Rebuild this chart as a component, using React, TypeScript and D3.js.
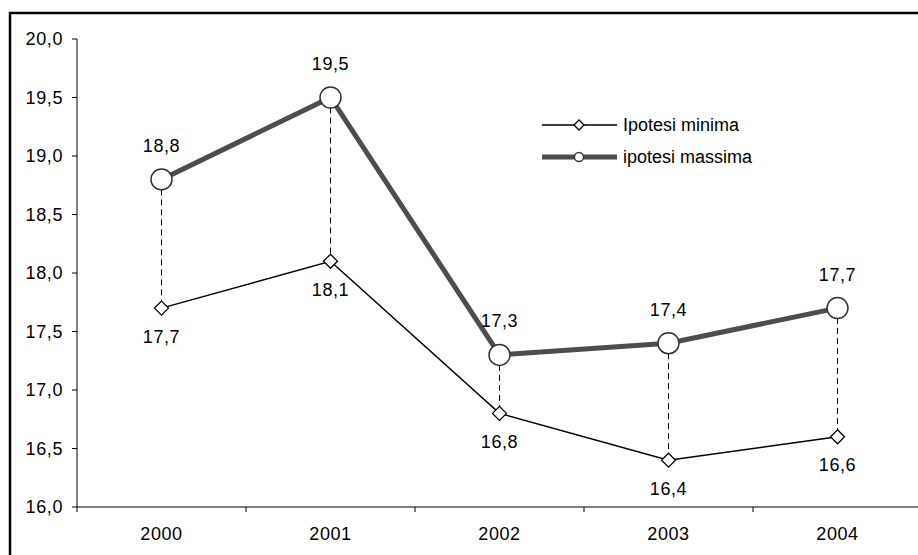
import React from "react";
import * as d3 from "d3";

const years: string[] = ["2000", "2001", "2002", "2003", "2004"];
const minValues: number[] = [17.7, 18.1, 16.8, 16.4, 16.6];
const maxValues: number[] = [18.8, 19.5, 17.3, 17.4, 17.7];
const yTicks: number[] = [16.0, 16.5, 17.0, 17.5, 18.0, 18.5, 19.0, 19.5, 20.0];
const seriesNames: string[] = ["Ipotesi minima", "ipotesi massima"];

const W = 918;
const H = 555;
const FONT = "'Liberation Sans', Arial, sans-serif";
const FS = 18;
const LS = 0.6;
const fmt = (v: number) => v.toFixed(1).replace(".", ",");

export default function App() {
  const x = d3.scaleBand<string>().domain(years).range([77, 922]).padding(0);
  const y = d3.scaleLinear().domain([16, 20]).range([507, 39]);
  const cx = (d: string) => (x(d) as number) + x.bandwidth() / 2;

  const line = d3
    .line<number>()
    .x((_, i) => cx(years[i]))
    .y((v) => y(v));

  const diamond = (px: number, py: number, s: number) =>
    `M${px},${py - s}L${px + s},${py}L${px},${py + s}L${px - s},${py}Z`;

  const legY = [125, 157];

  return (
    <div style={{ position: "absolute", left: 0, top: 0, width: W, height: H, background: "#fff" }}>
      <svg width={W} height={H} style={{ display: "block", fontFamily: FONT }}>
        <rect x={10} y={13} width={930} height={580} fill="#fff" stroke="#000" strokeWidth={2.5} />

        {/* y axis */}
        <line x1={77} x2={77} y1={y(20)} y2={y(16)} stroke="#000" strokeWidth={1} />
        {yTicks.map((t) => (
          <g key={t}>
            <line x1={72} x2={77} y1={y(t)} y2={y(t)} stroke="#000" strokeWidth={1} />
            <text x={63} y={y(t)} dy="0.36em" textAnchor="end" fontSize={FS} letterSpacing={LS} fill="#000">
              {fmt(t)}
            </text>
          </g>
        ))}

        {/* x axis */}
        <line x1={77} x2={922} y1={y(16)} y2={y(16)} stroke="#000" strokeWidth={1} />
        {years.map((yr) => (
          <g key={yr}>
            <line
              x1={x(yr) as number}
              x2={x(yr) as number}
              y1={y(16)}
              y2={y(16) + 5}
              stroke="#000"
              strokeWidth={1}
            />
            <text x={cx(yr)} y={534} dy="0.36em" textAnchor="middle" fontSize={FS} letterSpacing={LS} fill="#000">
              {yr}
            </text>
          </g>
        ))}

        {/* drop lines */}
        {years.map((yr, i) => (
          <line
            key={"d" + yr}
            x1={cx(yr)}
            x2={cx(yr)}
            y1={y(maxValues[i])}
            y2={y(minValues[i])}
            stroke="#000"
            strokeWidth={1}
            strokeDasharray="6,4"
          />
        ))}

        {/* min series */}
        <path d={line(minValues) || ""} fill="none" stroke="#000" strokeWidth={1.5} />
        {minValues.map((v, i) => (
          <path
            key={"m" + i}
            d={diamond(cx(years[i]), y(v), 7)}
            fill="#fff"
            stroke="#000"
            strokeWidth={1.3}
          />
        ))}

        {/* max series */}
        <path d={line(maxValues) || ""} fill="none" stroke="#4d4d4d" strokeWidth={5} />
        {maxValues.map((v, i) => (
          <circle
            key={"c" + i}
            cx={cx(years[i])}
            cy={y(v)}
            r={10.5}
            fill="#fff"
            stroke="#333"
            strokeWidth={1.5}
          />
        ))}

        {/* labels */}
        {maxValues.map((v, i) => (
          <text
            key={"lx" + i}
            x={cx(years[i])}
            y={y(v) - 34}
            dy="0.36em"
            textAnchor="middle"
            fontSize={FS}
            letterSpacing={LS}
            fill="#000"
          >
            {fmt(v)}
          </text>
        ))}
        {minValues.map((v, i) => (
          <text
            key={"ln" + i}
            x={cx(years[i])}
            y={y(v) + 28}
            dy="0.36em"
            textAnchor="middle"
            fontSize={FS}
            letterSpacing={LS}
            fill="#000"
          >
            {fmt(v)}
          </text>
        ))}

        {/* legend */}
        <line x1={542} x2={617} y1={legY[0]} y2={legY[0]} stroke="#000" strokeWidth={1.5} />
        <path d={diamond(579, legY[0], 5)} fill="#fff" stroke="#000" strokeWidth={1.3} />
        <text x={623} y={legY[0]} dy="0.36em" fontSize={FS} fill="#000">
          {seriesNames[0]}
        </text>
        <line x1={542} x2={617} y1={legY[1]} y2={legY[1]} stroke="#4d4d4d" strokeWidth={5} />
        <circle cx={579} cy={legY[1]} r={4.5} fill="#fff" stroke="#333" strokeWidth={1.3} />
        <text x={623} y={legY[1]} dy="0.36em" fontSize={FS} fill="#000">
          {seriesNames[1]}
        </text>
      </svg>
    </div>
  );
}
